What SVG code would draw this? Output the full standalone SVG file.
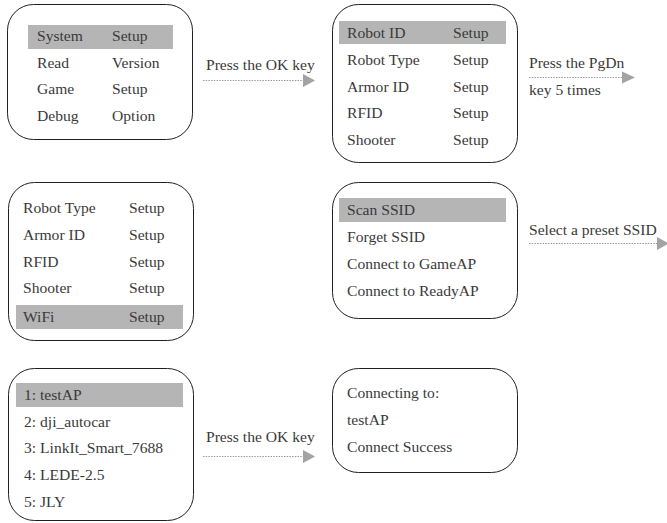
<svg xmlns="http://www.w3.org/2000/svg" width="667" height="523" viewBox="0 0 667 523">
  <style>
    .box { fill: #ffffff; stroke: #231f20; stroke-width: 1; }
    .hl { fill: #b5b5b5; }
    .t { font-family: "Liberation Serif", "Times New Roman", serif; font-size: 15.6px; fill: #3a3a3a; }
    .link { fill: none; stroke: #9a9a9a; stroke-width: 1; stroke-dasharray: 1.5 1.2; }
    .head { fill: #a3a3a3; }
  </style>
  <rect width="667" height="523" fill="#ffffff"/>

  <!-- main menu -->
  <g id="main-menu">
    <rect class="box" x="7.5" y="4.5" width="185" height="135" rx="26" ry="26"/>
    <rect class="hl" x="28" y="25" width="145" height="24"/>
    <text class="t" x="37" y="41">System</text><text class="t" x="112" y="41">Setup</text>
    <text class="t" x="37" y="68">Read</text><text class="t" x="112" y="68">Version</text>
    <text class="t" x="37" y="94">Game</text><text class="t" x="112" y="94">Setup</text>
    <text class="t" x="37" y="121">Debug</text><text class="t" x="112" y="121">Option</text>
  </g>

  <!-- system setup, first page -->
  <g id="system-setup">
    <rect class="box" x="332.5" y="4.5" width="185" height="158" rx="26" ry="26"/>
    <rect class="hl" x="339" y="21" width="167" height="23"/>
    <text class="t" x="347" y="38">Robot ID</text><text class="t" x="453" y="38">Setup</text>
    <text class="t" x="347" y="65">Robot Type</text><text class="t" x="453" y="65">Setup</text>
    <text class="t" x="347" y="92">Armor ID</text><text class="t" x="453" y="92">Setup</text>
    <text class="t" x="347" y="118">RFID</text><text class="t" x="453" y="118">Setup</text>
    <text class="t" x="347" y="145">Shooter</text><text class="t" x="453" y="145">Setup</text>
  </g>

  <!-- system setup, scrolled to WiFi -->
  <g id="system-setup-wifi">
    <rect class="box" x="8.5" y="182.5" width="185" height="158" rx="26" ry="26"/>
    <rect class="hl" x="16" y="305" width="167" height="24"/>
    <text class="t" x="23" y="213">Robot Type</text><text class="t" x="129" y="213">Setup</text>
    <text class="t" x="23" y="240">Armor ID</text><text class="t" x="129" y="240">Setup</text>
    <text class="t" x="23" y="267">RFID</text><text class="t" x="129" y="267">Setup</text>
    <text class="t" x="23" y="293">Shooter</text><text class="t" x="129" y="293">Setup</text>
    <text class="t" x="23" y="322">WiFi</text><text class="t" x="129" y="322">Setup</text>
  </g>

  <!-- WiFi menu -->
  <g id="wifi-menu">
    <rect class="box" x="332.5" y="182.5" width="185" height="136" rx="26" ry="26"/>
    <rect class="hl" x="339" y="198" width="167" height="24"/>
    <text class="t" x="347" y="215">Scan SSID</text>
    <text class="t" x="347" y="242">Forget SSID</text>
    <text class="t" x="347" y="269">Connect to GameAP</text>
    <text class="t" x="347" y="296">Connect to ReadyAP</text>
  </g>

  <!-- preset SSID list -->
  <g id="ssid-list">
    <rect class="box" x="8.5" y="368.5" width="185" height="152" rx="26" ry="26"/>
    <rect class="hl" x="16" y="383" width="167" height="24"/>
    <text class="t" x="24" y="400">1: testAP</text>
    <text class="t" x="24" y="427">2: dji_autocar</text>
    <text class="t" x="24" y="453">3: LinkIt_Smart_7688</text>
    <text class="t" x="24" y="480">4: LEDE-2.5</text>
    <text class="t" x="24" y="507">5: JLY</text>
  </g>

  <!-- connection status -->
  <g id="connect-status">
    <rect class="box" x="332.5" y="368.5" width="185" height="104" rx="26" ry="26"/>
    <text class="t" x="347" y="398">Connecting to:</text>
    <text class="t" x="347" y="425">testAP</text>
    <text class="t" x="347" y="452">Connect Success</text>
  </g>

  <!-- transitions -->
  <g id="connectors">
    <text class="t" x="206" y="70">Press the OK key</text>
    <line class="link" x1="203" y1="80.5" x2="304" y2="80.5"/>
    <polygon class="head" points="303,74 315,80.5 303,87"/>

    <text class="t" x="529" y="68">Press the PgDn</text>
    <text class="t" x="529" y="95">key 5 times</text>
    <line class="link" x1="529" y1="77.5" x2="623" y2="77.5"/>
    <polygon class="head" points="622,71.5 635,77.5 622,83.5"/>

    <text class="t" x="529" y="235">Select a preset SSID</text>
    <line class="link" x1="529" y1="243.5" x2="658" y2="243.5"/>
    <polygon class="head" points="657,237 669,243.5 657,250"/>

    <text class="t" x="206" y="442">Press the OK key</text>
    <line class="link" x1="203" y1="456.5" x2="304" y2="456.5"/>
    <polygon class="head" points="303,450 315,456.5 303,463"/>
  </g>
</svg>
